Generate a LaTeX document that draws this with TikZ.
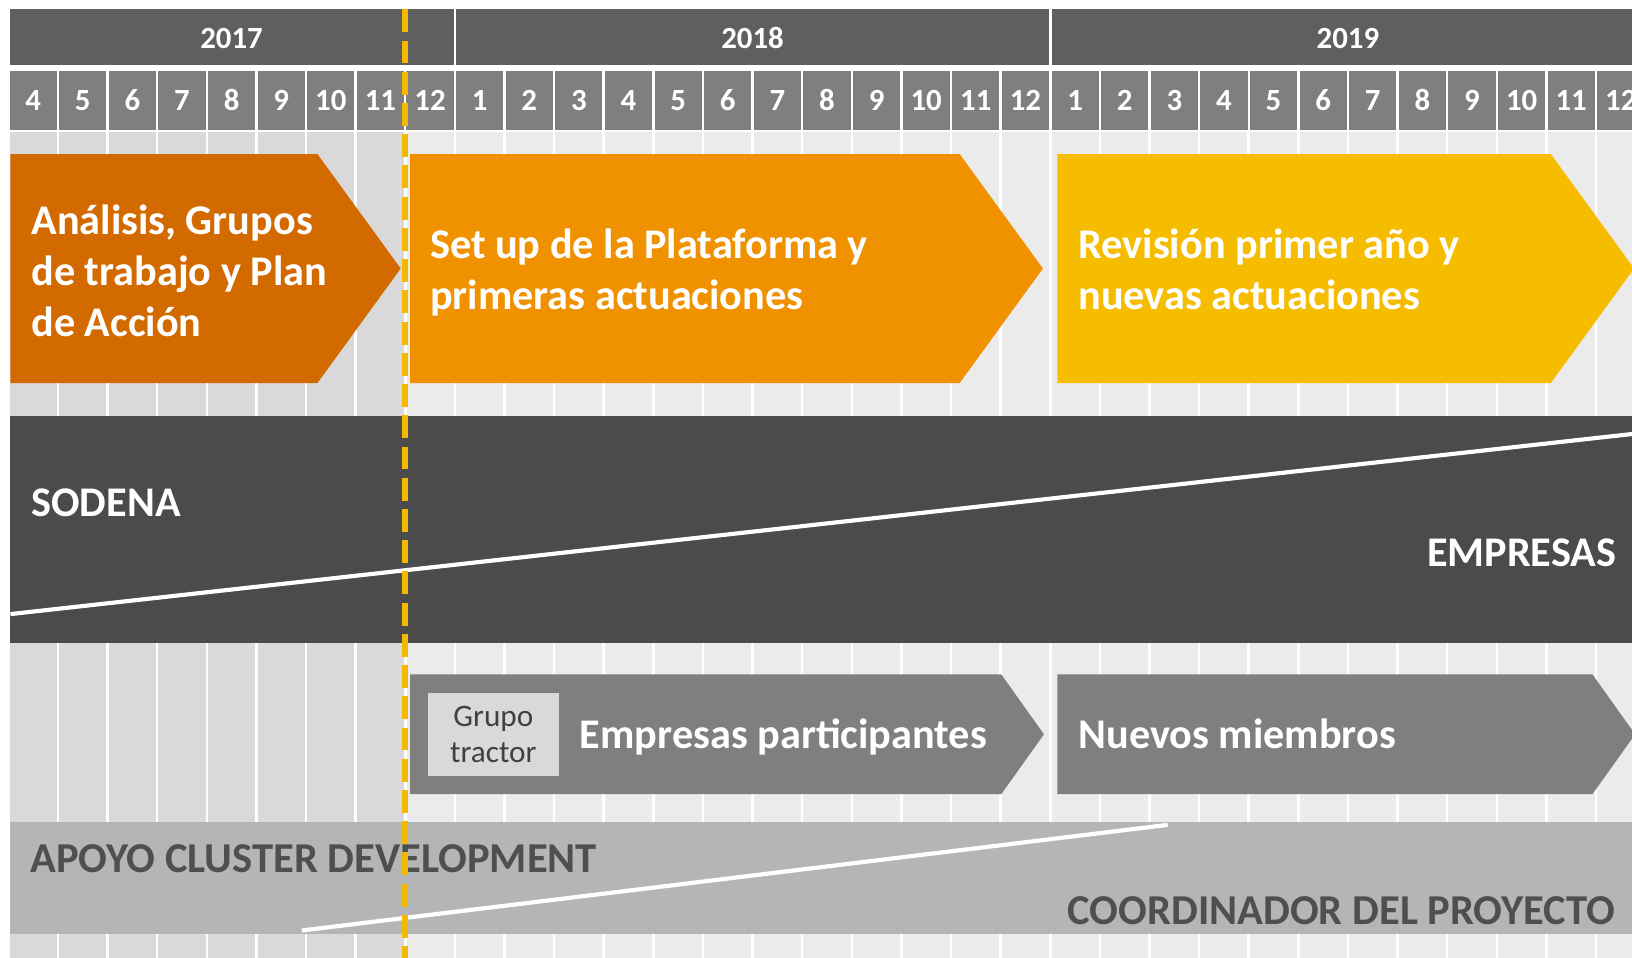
\documentclass[tikz,border=0pt]{standalone}
\usepackage{fontspec}
\setmainfont{Carlito}
\usetikzlibrary{positioning}

\definecolor{yearbar}{HTML}{5F5F5F}
\definecolor{monthcell}{HTML}{7F7F7F}
\definecolor{gridlight}{HTML}{EBEBEB}
\definecolor{griddark}{HTML}{D9D9D9}
\definecolor{phaseA}{HTML}{D26A00}
\definecolor{phaseB}{HTML}{F09100}
\definecolor{phaseC}{HTML}{F5BC00}
\definecolor{agentband}{HTML}{4B4B4B}
\definecolor{supportband}{HTML}{B5B5B5}
\definecolor{supporttext}{HTML}{4F4F4F}
\definecolor{tractortext}{HTML}{404040}
\definecolor{todayline}{HTML}{F5B800}

\begin{document}
\begin{tikzpicture}[x=1pt, y=-1pt,
		year/.style={fill=yearbar, text=white, font={\fontsize{29.6}{34}\selectfont\bfseries}, minimum height=53pt, text height=23pt, text depth=0pt, inner sep=0pt},
		month/.style={fill=monthcell, text=white, font={\fontsize{29.6}{34}\selectfont\bfseries}, minimum width=45.3pt, minimum height=57pt, inner sep=0pt},
		phasetext/.style={text=white, font={\fontsize{40.6}{49}\selectfont\bfseries}, align=left, anchor=west, inner sep=0pt},
		bigtext/.style={text=white, font={\fontsize{40.6}{49}\selectfont\bfseries}, inner sep=0pt},
		supportlabel/.style={text=supporttext, font={\fontsize{40.9}{49}\selectfont\bfseries}, inner sep=0pt},
		tractorbox/.style={fill=griddark, text=tractortext, font={\fontsize{30}{34.5}\selectfont}, align=center, minimum width=126pt, minimum height=80pt, inner sep=0pt}
		]
		\useasboundingbox (0,0) rectangle (1568,920);
		\clip (0,0) rectangle (1568,920);
		\fill[white] (0,0) rectangle (1568,920);
		% Grid background
		\fill[gridlight] (8,127) rectangle (1568,920);
		\fill[griddark] (8,127) rectangle (389.4,920);
		\foreach \i in {0,...,33} {
			\draw[white, line width=2.4pt] (8+47.67*\i,127) -- (8+47.67*\i,920);
		}
		% Years
		\foreach \yr/\first/\n in {2017/0/9, 2018/9/12, 2019/21/12} {
			\node[year, minimum width={47.67*\n-2.4}] (Y\yr) at ({8+47.67*\first+47.67*\n/2},35.5) {\yr};
		}
		% Months
		\foreach \i in {0,...,32} {
			\pgfmathtruncatemacro\m{mod(\i+3,12)+1}
			\node[month] (M\i) at ({8+47.67*\i+23.835},96.5) {\m};
		}
		% Phase arrows
		\foreach \xa/\xb/\col in {10/305/phaseA, 394/922/phaseB, 1016/1490/phaseC} {
			\fill[\col] (\xa,148) -- (\xb,148) -- (\xb+80,258) -- (\xb,368) -- (\xa,368) -- cycle;
		}
		\node[phasetext] (P1) at (30,260) {Análisis, Grupos\\de trabajo y Plan\\de Acción};
		\node[phasetext] (P2) at (413,261.5) {Set up de la Plataforma y\\primeras actuaciones};
		\node[phasetext] (P3) at (1036,259) {Revisión primer año y\\nuevas actuaciones};
		% Agents band
		\fill[agentband] (10,400) rectangle (1568,618);
		\draw[white, line width=4pt] (10,590) -- (1568,417);
		\node[bigtext, anchor=base west] (sodena) at (30,496.5) {SODENA};
		\node[bigtext, anchor=base east] (empresas) at (1553,544.5) {EMPRESAS};
		% Member arrows
		\foreach \xa/\xb in {394/962, 1016/1530} {
			\fill[monthcell] (\xa,648) -- (\xb,648) -- (\xb+41,705.5) -- (\xb,763) -- (\xa,763) -- cycle;
		}
		\node[tractorbox] (tractor) at (474,706) {Grupo\\tractor};
		\node[bigtext, anchor=base west] (participantes) at (557,719) {Empresas participantes};
		\node[bigtext, anchor=base west] (nuevos) at (1036,719) {Nuevos miembros};
		% Support band
		\fill[supportband] (10,790) rectangle (1568,897.5);
		\draw[white, line width=4pt] (290,894) -- (1122,792.5);
		\node[supportlabel, anchor=base west] (apoyo) at (29,838.5) {APOYO CLUSTER DEVELOPMENT};
		\node[supportlabel, anchor=base east] (coordinador) at (1552,888) {COORDINADOR DEL PROYECTO};
		% Today marker
		\draw[todayline, line width=6pt, dash pattern=on 22pt off 8pt] (389.4,9) -- (389.4,920);
	\end{tikzpicture}
\end{document}
